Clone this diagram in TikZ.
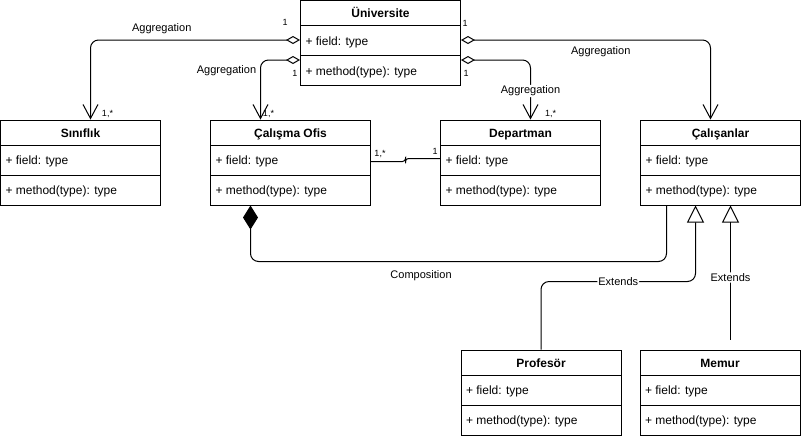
\documentclass[tikz,border=0pt]{standalone}
\usepackage{fontspec}
\setmainfont{Liberation Sans}
\usepackage{tikz}
\usetikzlibrary{calc}
\usetikzlibrary{positioning}
\usetikzlibrary{shapes.multipart}
\usetikzlibrary{arrows.meta}
\tikzset{>=latex}
\tikzstyle{umlclass} = [draw, line width=1pt, rectangle split, rectangle split parts=3,
    rectangle split part align={center,left,left}, minimum width=160pt,
    inner xsep=5pt, inner ysep=0pt, font=\fontsize{12}{14}\selectfont]
\tikzstyle{aggr} = [line width=1pt, rounded corners=8pt,
    {Diamond[open,length=14pt,width=8pt]}-{Straight Barb[length=14pt,width=15pt]}]
\tikzstyle{compo} = [line width=1pt, rounded corners=8pt, {Diamond[length=24pt,width=15pt]}-]
\tikzstyle{extends} = [line width=1pt, rounded corners=8pt, -{Triangle[open,length=17pt,width=17pt]}]
\tikzstyle{assoc} = [line width=1pt, rounded corners=3pt]
\tikzstyle{lbl} = [font=\fontsize{11}{13}\selectfont]
\tikzstyle{mult} = [font=\fontsize{9}{10}\selectfont, inner sep=0pt]
\newcommand{\rowfont}{\fontsize{12}{14}\selectfont}
\newcommand{\hdstrut}{\rule[-7.5pt]{0pt}{24pt}}
\newcommand{\rwstrut}{\rule[-10pt]{0pt}{29pt}}
\newcommand{\classbody}[1]{\rowfont\textbf{#1}\hdstrut
    \nodepart{two}\rowfont + field: type\rwstrut
    \nodepart{three}\rowfont + method(type): type\rwstrut}

\begin{document}
\begin{tikzpicture}[x=1pt, y=-1pt]
    \useasboundingbox (0,0) rectangle (801,440);
    % We start by placing the classes
    \node [umlclass, anchor=north west] (univ) at (300,0) {\classbody{Üniversite}};
    \node [umlclass, anchor=north west] (sinif) at (0,119.5) {\classbody{Sınıflık}};
    \node [umlclass, right=49pt of sinif] (ofis) {\classbody{Çalışma Ofis}};
    \node [umlclass, right=69pt of ofis] (dept) {\classbody{Departman}};
    \node [umlclass, right=39pt of dept] (calis) {\classbody{Çalışanlar}};
    \node [umlclass, anchor=north west] (prof) at (460.5,349.5) {\classbody{Profesör}};
    \node [umlclass, right=18pt of prof] (memur) {\classbody{Memur}};

    % Aggregations of the university
    \draw [aggr] ($(univ.north west)+(0,40)$) -| node [lbl, pos=0.33, above=2pt] {Aggregation}
        ($(sinif.north)+(10,0)$);
    \draw [aggr] ($(univ.north west)+(0,60)$) -| node [lbl, pos=0.59, left=0.5pt] {Aggregation}
        ($(ofis.north)+(-30,0)$);
    \draw [aggr] ($(univ.north east)+(0,60)$) -| node [lbl, pos=0.76, fill=white, inner sep=1pt] {Aggregation}
        ($(dept.north)+(10,0)$);
    \draw [aggr] ($(univ.north east)+(0,40)$) -| node [lbl, pos=0.28, below=3pt] {Aggregation}
        ($(calis.north)+(-10,0)$);
    \node [mult] (m1) at ($(univ.north west)+(-15,22)$) {1};
    \node [mult] (m2) at ($(sinif.north)+(27,-5.5)$) {1,*};
    \node [mult] (m3) at ($(univ.north west)+(-5,73)$) {1};
    \node [mult] (m4) at ($(ofis.north)+(-22,-5.5)$) {1,*};
    \node [mult] (m5) at ($(univ.north east)+(5,73)$) {1};
    \node [mult] (m6) at ($(dept.north)+(30,-5.5)$) {1,*};
    \node [mult] (m7) at ($(univ.north east)+(4,23)$) {1};

    % Office to department
    \coordinate (oj) at ($(ofis.north east)!0.5!(dept.north west)$);
    \draw [assoc] ($(ofis.north east)+(0,42)$) -| ($(oj)+(0,40.5)$) |- ($(dept.north west)+(0,39)$);
    \node [mult] (m8) at ($(ofis.north east)+(9,34.5)$) {1,*};
    \node [mult] (m9) at ($(dept.north west)+(-5,32)$) {1};

    % Composition and inheritance
    \draw [compo] ($(ofis.south)+(-40,0)$) |- node [lbl, pos=0.705, below=5pt] {Composition}
        ($(calis.south)+(-54,56)$) -- ($(calis.south)+(-54,0)$);
    \draw [extends] (prof.north) |- node [lbl, pos=0.75, fill=white, inner sep=1pt] {Extends}
        ($(calis.south)+(-25,76)$) -- ($(calis.south)+(-25,0)$);
    \coordinate (mt) at ($(calis.south)+(10,0)$);
    \draw [extends, shorten <=10pt] (mt |- memur.north) -- node [lbl, fill=white, inner sep=1pt] {Extends} (mt);
\end{tikzpicture}
\end{document}
